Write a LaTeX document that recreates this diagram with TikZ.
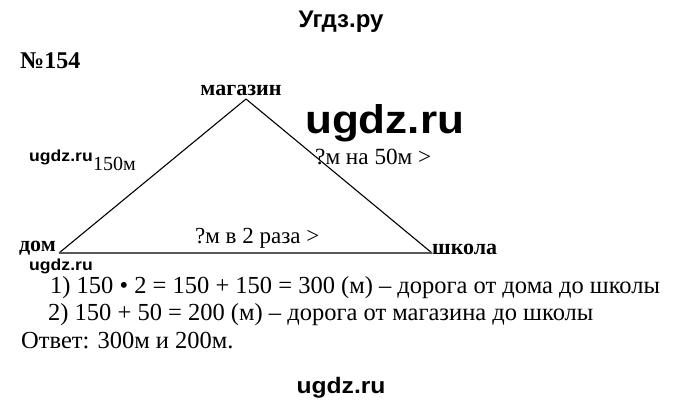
\documentclass[tikz,border=0pt]{standalone}
\usepackage{fontspec}
\setmainfont{Liberation Serif}
\newfontfamily\headfont{Liberation Sans}
\newfontfamily\wmfont[FakeStretch=1.1]{Liberation Sans}
\usetikzlibrary{positioning}

\begin{document}
\begin{tikzpicture}[
        x=1pt, y=-1pt,
        side/.style={line width=1.1pt, black},
        baseside/.style={line width=1.6pt, black!65},
        vertexlbl/.style={inner sep=0pt, font=\bfseries\fontsize{22}{24}\selectfont},
        sidelbl/.style={inner sep=0pt, anchor=base west, font=\fontsize{#1}{24}\selectfont},
        sollbl/.style={inner sep=0pt, anchor=base west, font=\fontsize{24.5}{27}\selectfont},
        wmark/.style={inner sep=0pt, font=\wmfont\bfseries\fontsize{#1}{#1}\selectfont}
    ]
    \useasboundingbox (0,0) rectangle (680,407);

    % --- Header ---
    \node[inner sep=0pt, anchor=base, font=\headfont\bfseries\fontsize{24}{26}\selectfont] (title) at (341,27) {Угдз.ру};
    \node[inner sep=0pt, anchor=base west, font=\bfseries\fontsize{24}{26}\selectfont] (number) at (20,68) {№154};

    % --- Triangle ---
    \coordinate (dom) at (59,253);
    \coordinate (shop) at (246,99);
    \coordinate (school) at (432,253);

    \draw[side] (dom) -- (shop);
    \draw[side] (shop) -- (school);
    \draw[baseside] (dom) -- (school);

    \node[vertexlbl, anchor=base, xshift=-5pt, yshift=4pt] (shoplbl) at (shop) {магазин};
    \node[vertexlbl, anchor=base east, xshift=-3pt, yshift=2pt] (domlbl) at (dom) {дом};
    \node[vertexlbl, anchor=base west, yshift=-1pt] (schoollbl) at (school) {школа};

    % side labels
    \node[sidelbl=20] (leftlbl) at (93,170) {150м};
    \node[sidelbl=23.2] (rightlbl) at (315,164) {?м на 50м >};
    \node[sidelbl=23] (baselbl) at (195,243) {?м в 2 раза >};

    % --- Solution ---
    \node[sollbl] (step1) at (50,293) {1) 150 • 2 = 150 + 150 = 300 (м) – дорога от дома до школы};
    \node[sollbl] (step2) at (48,320) {2) 150 + 50 = 200 (м) – дорога от магазина до школы};
    \node[sollbl] (answer) at (21,348) {Ответ: 300м и 200м.};

    % --- Watermarks ---
    \node[wmark=40, anchor=base west] (wmbig) at (305,133) {ugdz.ru};
    \node[wmark=16, anchor=base west] (wmleft) at (29,161) {ugdz.ru};
    \node[wmark=16, anchor=base west] (wmdom) at (29,270) {ugdz.ru};
    \node[wmark=22.4, anchor=base] (wmfoot) at (341,393) {ugdz.ru};

\end{tikzpicture}
\end{document}
